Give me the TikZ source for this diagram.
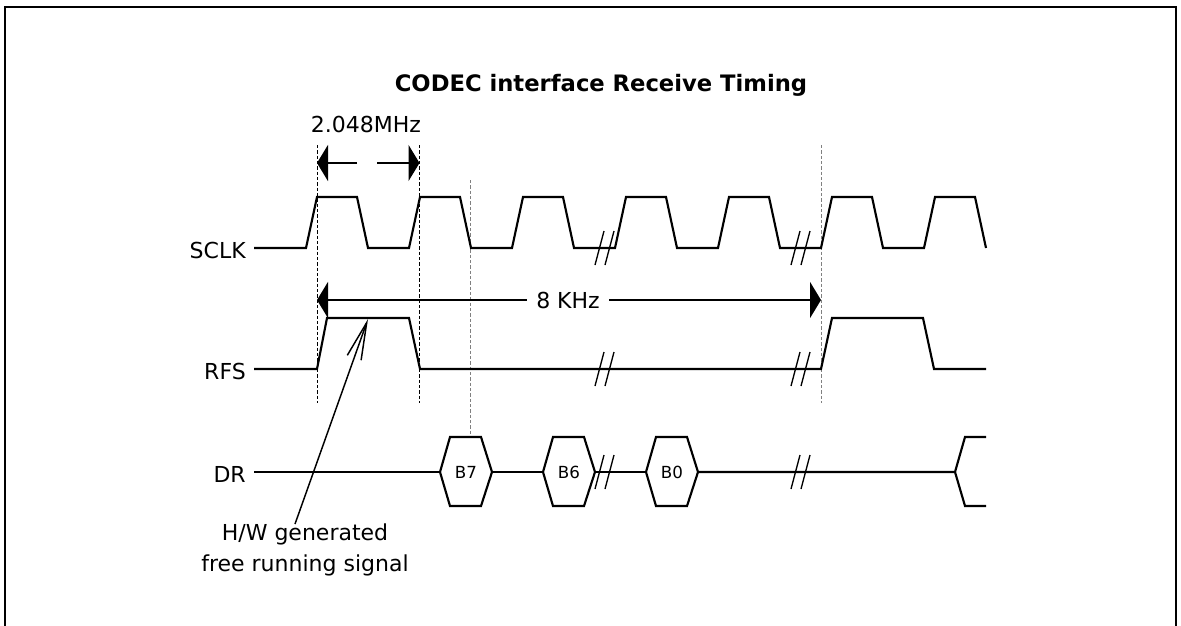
\documentclass[tikz,border=0pt]{standalone}
\usepackage{fontspec}
\setmainfont{DejaVu Sans}
\usetikzlibrary{arrows.meta}

\begin{document}
\begin{tikzpicture}[x=0.75pt, y=-0.75pt,
  sigline/.style={draw, line width=1.6pt, line join=miter},
  brkline/.style={draw, line width=1pt},
  guideline/.style={draw, line width=0.5pt, dash pattern=on 2.5pt off 1.5pt},
  dimarrow/.style={draw, line width=1.6pt, -{Triangle[length=8.25pt, width=27pt]}},
  notearrow/.style={draw, line width=1.1pt, -{Straight Barb[length=28pt, width=11pt]}},
  siglabel/.style={font=\fontsize{16.5}{20}\selectfont, anchor=east, inner sep=0pt},
  bitlabel/.style={font=\fontsize{12.5}{14}\selectfont, inner sep=0pt},
]
  \useasboundingbox (0,0) rectangle (1181,625);
  \draw[line width=1.5pt] (5,630) -- (5,7) -- (1176,7) -- (1176,630);
  \node[font=\bfseries\fontsize{17}{20}\selectfont, anchor=base] (title) at (601,91) {CODEC interface Receive Timing};
  \node[siglabel] (sclk) at (246,250) {SCLK};
  \node[siglabel] (rfs) at (246,371) {RFS};
  \node[siglabel] (dr) at (246,474) {DR};
  \draw[guideline] (317,145) -- (317,403);
  \draw[guideline] (419.5,145) -- (419.5,403);
  \draw[guideline, gray] (470,180) -- (470,437);
  \draw[guideline, gray] (821,145) -- (821,403);
  \draw[sigline] (254,248) \foreach \k in {0,...,6} { -- ({306+103*\k},248) -- ({317+103*\k},197) -- ({357+103*\k},197) -- ({368+103*\k},248) };
  \draw[sigline] (254,369) -- (317,369) -- (327,318) -- (409,318) -- (420,369) -- (821,369) -- (832,318) -- (923,318) -- (934,369) -- (986,369);
  \draw[sigline] (254,472) -- (440,472);
  \foreach \x/\b in {440/B7, 543/B6, 646/B0} {
    \draw[sigline] (\x,472) -- ({\x+10},437) -- ({\x+41},437) -- ({\x+52},472) -- ({\x+41},506) -- ({\x+10},506) -- cycle;
    \node[bitlabel] (bit\b) at ({\x+26},472) {\b};
  }
  \draw[sigline] (bitB7.center) ++(26,0) -- (543,472);
  \draw[sigline] (595,472) -- (646,472);
  \draw[sigline] (698,472) -- (955,472) -- (965,437) -- (986,437);
  \draw[sigline] (955,472) -- (965,506) -- (986,506);
  \foreach \x/\y in {599.5/248, 795.5/248, 599.5/369, 795.5/369, 599.5/472, 795.5/472} {
    \draw[brkline] ({\x-4.5},{\y+17}) -- ({\x+4.5},{\y-17});
    \draw[brkline] ({\x+5.5},{\y+17}) -- ({\x+14.5},{\y-17});
  }
  \node[font=\fontsize{16.5}{20}\selectfont, anchor=base, inner sep=0pt] (mhz) at (366,132) {2.048MHz};
  \coordinate (mhzgap) at (367,163);
  \draw[dimarrow] ([xshift=-7.5pt]mhzgap) -- (317,163);
  \draw[dimarrow] ([xshift=7.5pt]mhzgap) -- (419.5,163);
  \node[font=\fontsize{16.5}{20}\selectfont, inner xsep=7pt, inner ysep=0pt] (khz) at (568,300) {8 KHz};
  \draw[dimarrow] (khz.west) -- (317,300);
  \draw[dimarrow] (khz.east) -- (821,300);
  \node[font=\fontsize{16.5}{23.25}\selectfont, align=center, anchor=north, inner sep=0pt] (note) at (305,524) {H/W generated\\free running signal};
  \coordinate (rfshigh) at (368,319);
  \draw[notearrow] ([xshift=-7.5pt]note.north) -- (rfshigh);
\end{tikzpicture}
\end{document}
